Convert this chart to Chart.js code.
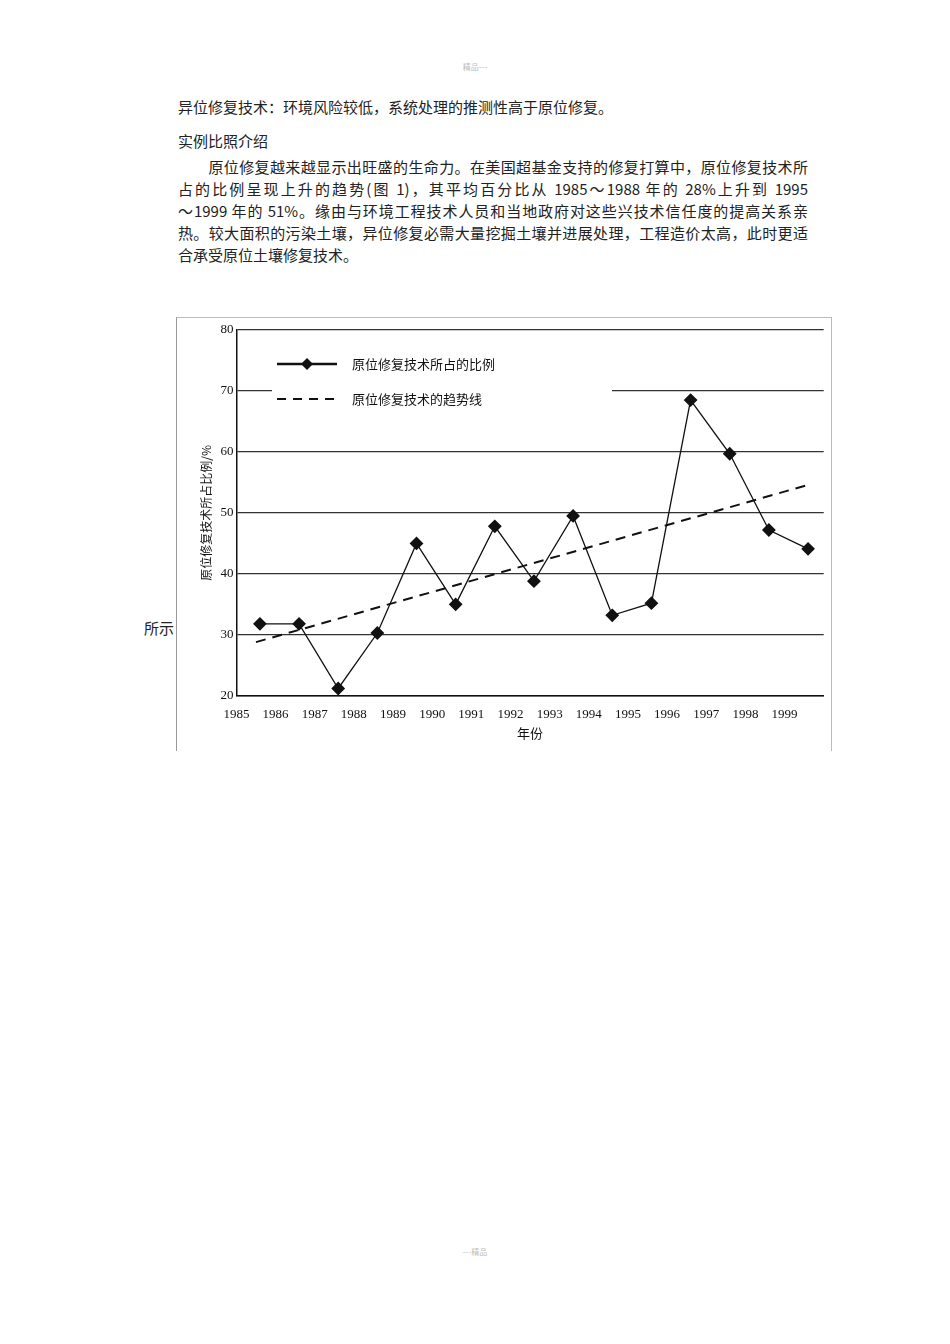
<!DOCTYPE html>
<html><head><meta charset="utf-8">
<script src="https://cdn.jsdelivr.net/npm/chart.js@4"></script>
<style>
body{margin:0;width:950px;height:1344px;background:#fff;position:relative;font-family:"Noto Sans CJK SC","Noto Sans",sans-serif;color:#222}
.p{position:absolute;left:178px;width:630px;font-size:15px;line-height:22px}
.j{display:block;text-align:justify;text-align-last:justify;white-space:nowrap}
#box{position:absolute;left:176px;top:317px;width:654px;height:433px;border-left:1px solid #999;border-top:1px solid #bbb;border-right:1px solid #bbb}
</style></head><body>
<div style="position:absolute;top:61px;left:0;width:950px;text-align:center;font-size:8px;color:#bbb">精品---</div>
<div class="p" style="top:96px">异位修复技术：环境风险较低，系统处理的推测性高于原位修复。</div>
<div class="p" style="top:130px">实例比照介绍</div>
<div class="p" style="top:156px">
<span class="j" style="padding-left:0">&emsp;&emsp;原位修复越来越显示出旺盛的生命力。在美国超基金支持的修复打算中，原位修复技术所</span>
<span class="j">占的比例呈现上升的趋势(图 1)，其平均百分比从 1985～1988 年的 28%上升到 1995</span>
<span class="j">～1999 年的 51%。缘由与环境工程技术人员和当地政府对这些兴技术信任度的提高关系亲</span>
<span class="j">热。较大面积的污染土壤，异位修复必需大量挖掘土壤并进展处理，工程造价太高，此时更适</span>
<span style="display:block">合承受原位土壤修复技术。</span></div>
<div style="position:absolute;left:144px;top:617px;font-size:15px">所示</div>
<div id="box"><canvas id="c" width="654" height="433"></canvas></div>
<div style="position:absolute;top:1246px;left:0;width:950px;text-align:center;font-size:8px;color:#bbb">---精品</div>
<script>
const years=[1985,1986,1987,1988,1989,1990,1991,1992,1993,1994,1995,1996,1997,1998,1999];
const share=[31.8,31.8,21.2,30.3,45.0,35.0,47.8,38.8,49.5,33.2,35.2,68.5,59.7,47.2,44.1];
const trendYears=[1985.5,1999.55];
const trendVals=[28.8,54.5];
const label1='原位修复技术所占的比例', label2='原位修复技术的趋势线';
const pts=years.map((y,i)=>({x:y+0.6,y:share[i]}));
const tr=trendYears.map((y,i)=>({x:y,y:trendVals[i]}));
const legendPlugin={id:'lg',afterDraw(ch){const c=ch.ctx;c.save();
c.fillStyle='#fff';c.fillRect(95,28,340,82);
c.strokeStyle='#111';c.lineWidth=2.5;c.beginPath();c.moveTo(100,46);c.lineTo(160,46);c.stroke();
c.fillStyle='#111';c.beginPath();c.moveTo(130,40);c.lineTo(136,46);c.lineTo(130,52);c.lineTo(124,46);c.fill();
c.setLineDash([9,7]);c.lineWidth=2;c.beginPath();c.moveTo(100,81);c.lineTo(162,81);c.stroke();c.setLineDash([]);
c.font='13px "Noto Sans CJK SC"';c.textBaseline='middle';c.fillText(label1,175,46);c.fillText(label2,175,81);c.restore();}};
new Chart(document.getElementById('c'),{type:'scatter',
data:{datasets:[
{data:pts,showLine:true,borderColor:'#111',borderWidth:1.3,backgroundColor:'#111',pointStyle:'rectRot',pointRadius:6},
{data:tr,showLine:true,borderColor:'#111',borderWidth:2,borderDash:[10,7],pointRadius:0}]},
options:{responsive:false,animation:false,
layout:{padding:{top:12,right:4,left:18,bottom:6}},
plugins:{legend:{display:false},tooltip:{enabled:false}},
scales:{
x:{type:'linear',min:1985,max:2000,afterBuildTicks(a){a.ticks=years.map(v=>({value:v}));},
ticks:{color:'#111',font:{family:'Liberation Serif',size:13},maxRotation:0,autoSkip:false,callback:v=>String(v)},
grid:{display:false},border:{color:'#111',width:1.5},
title:{display:true,text:'年份',color:'#111',font:{family:'Noto Sans CJK SC',size:13},padding:{top:0}}},
y:{min:20,max:80,ticks:{stepSize:10,color:'#111',font:{family:'Liberation Serif',size:13}},
grid:{color:'#333',lineWidth:1.3,drawTicks:false},border:{color:'#111',width:1.5},
title:{display:true,text:'原位修复技术所占比例/%',color:'#111',font:{family:'Noto Sans CJK SC',size:12}}}}},
plugins:[legendPlugin]});
</script></body></html>
